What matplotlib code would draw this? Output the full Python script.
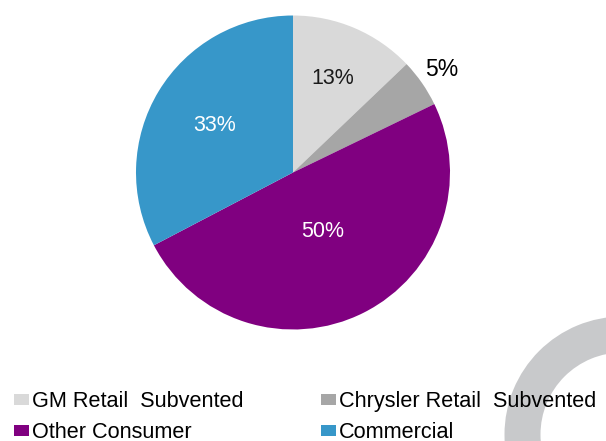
import matplotlib.pyplot as plt
from matplotlib.patches import Rectangle, Wedge
import numpy as np

plt.rcParams['font.family'] = ['Liberation Sans', 'DejaVu Sans']

segments = ['GM Retail  Subvented', 'Chrysler Retail  Subvented', 'Other Consumer', 'Commercial']
shares = [13, 5, 50, 33]
colors = ['#d9d9d9', '#a6a6a6', '#800080', '#3797c9']

# label placement per slice: radial distance (fraction of radius), text colour, size
label_dist = [0.65, 1.15, 0.42, 0.58]
label_color = ['#1a1a1a', '#000000', 'white', 'white']
label_size = [15.5, 16.5, 15.5, 15.5]

W, H = 606, 441
fig = plt.figure(figsize=(W / 100, H / 100), dpi=100)
ax = fig.add_axes([0, 0, 1, 1])

# decorative ring in the lower right corner
ax.add_patch(Wedge((622.5, 6.5), 118, 0, 360, width=36, color='#c8c9cb', lw=0, zorder=0))

cx, cy, R = 293, 268.5, 157
wedges, _ = ax.pie(shares, colors=colors, startangle=90, counterclock=False,
                   center=(cx, cy), radius=R, wedgeprops=dict(linewidth=0))

for w, val, d, c, s in zip(wedges, shares, label_dist, label_color, label_size):
    mid = np.deg2rad((w.theta1 + w.theta2) / 2)
    ax.text(cx + d * R * np.cos(mid), cy + d * R * np.sin(mid), f'{val}%',
            ha='center', va='center', fontsize=s, color=c, zorder=5)

# legend, two columns
legend_pos = [(14, 34), (321, 34), (14, 3), (321, 3)]
for (x, y), name, col in zip(legend_pos, segments, colors):
    ax.add_patch(Rectangle((x, y + 2), 15, 11, color=col, lw=0, zorder=4))
    ax.text(x + 18, y, name, fontsize=15.6, color='black', va='baseline', zorder=5)

ax.set_xlim(0, W)
ax.set_ylim(0, H)
ax.set_aspect('equal')
ax.axis('off')

fig.savefig('out.png', dpi=100)
